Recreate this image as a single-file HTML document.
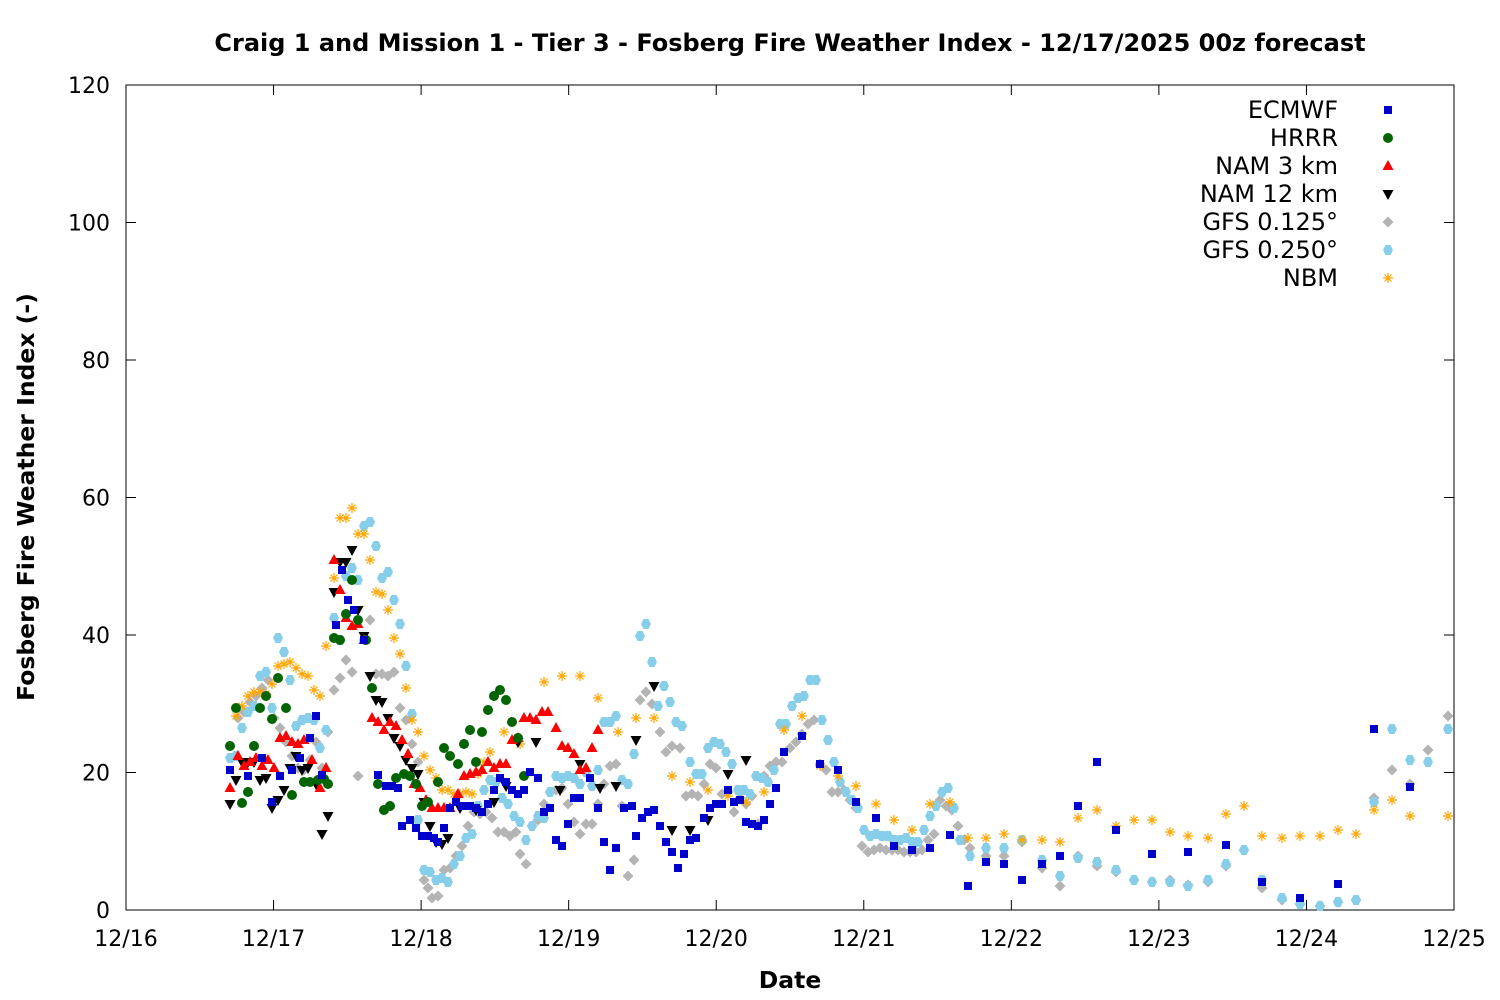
<!DOCTYPE html>
<html><head><meta charset="utf-8"><style>
body{margin:0;background:#fff}
svg{display:block;font-family:"DejaVu Sans","Liberation Sans",sans-serif}
</style></head><body>
<svg id="s" width="1500" height="1000" xmlns="http://www.w3.org/2000/svg">
<rect width="1500" height="1000" fill="#fff"/>
<text x="790" y="51" text-anchor="middle" font-size="24" font-weight="bold">Craig 1 and Mission 1 - Tier 3 - Fosberg Fire Weather Index - 12/17/2025 00z forecast</text>
<g id="ax" stroke="#000" stroke-width="1" fill="none"></g>
<g id="lab" font-size="22" fill="#000"></g>
<text x="790" y="988" text-anchor="middle" font-size="23.5" font-weight="bold">Date</text>
<text transform="translate(34,497) rotate(-90)" text-anchor="middle" font-size="23.5" font-weight="bold">Fosberg Fire Weather Index (-)</text>
<g id="pts"></g>
<g id="leg" font-size="24" text-anchor="end"></g>
</svg>
<script>
const NS="http://www.w3.org/2000/svg";
function el(p,t,a,txt){const e=document.createElementNS(NS,t);for(const k in a)e.setAttribute(k,a[k]);if(txt!==undefined)e.textContent=txt;document.getElementById(p).appendChild(e);return e;}
el('ax','rect',{x:126,y:85,width:1328,height:825});
const lab=["12/16","12/17","12/18","12/19","12/20","12/21","12/22","12/23","12/24","12/25"];
for(let i=0;i<10;i++){const x=126+1328/9*i;el('ax','line',{x1:x,y1:910,x2:x,y2:900});el('ax','line',{x1:x,y1:85,x2:x,y2:95});el('lab','text',{x:x,y:946,'text-anchor':'middle'},lab[i]);}
for(let k=0;k<=6;k++){const y=910-137.5*k;el('ax','line',{x1:126,y1:y,x2:136,y2:y});el('ax','line',{x1:1454,y1:y,x2:1444,y2:y});el('lab','text',{x:110,y:y+8,'text-anchor':'end'},String(20*k));}
function mk(type,x,y,g){g=g||'pts';
 if(type==0)el(g,'rect',{x:x-4,y:y-4,width:8,height:8,fill:'#0000cc'});
 else if(type==1)el(g,'circle',{cx:x,cy:y,r:5,fill:'#006400'});
 else if(type==2)el(g,'polygon',{points:`${x},${y-6} ${x+5.5},${y+4} ${x-5.5},${y+4}`,fill:'#ff0000'});
 else if(type==3)el(g,'polygon',{points:`${x},${y+6} ${x+5.5},${y-4} ${x-5.5},${y-4}`,fill:'#000'});
 else if(type==4)el(g,'polygon',{points:`${x},${y-5.5} ${x+5.5},${y} ${x},${y+5.5} ${x-5.5},${y}`,fill:'#b4b4b4'});
 else if(type==5)el(g,'polygon',{points:`${x-2.5},${y-5} ${x+2.5},${y-5} ${x+5},${y} ${x+2.5},${y+5} ${x-2.5},${y+5} ${x-5},${y}`,fill:'#87ceeb'});
 else {const p=`M${x-5},${y}H${x+5}M${x},${y-5}V${y+5}M${x-3.5},${y-3.5}L${x+3.5},${y+3.5}M${x-3.5},${y+3.5}L${x+3.5},${y-3.5}`;el(g,'path',{d:p,stroke:'#ffa500','stroke-width':1.2,fill:'none'});}
}
const D=[
[230,770,248,776,262,758,272,802,280,776,292,770,300,758,310,738,316,716,322,775,336,625,342,570,348,600,354,610,364,640,378,775,386,786,392,786,398,788,402,826,410,820,416,828,422,836,428,836,434,838,438,842,444,828,450,808,456,802,462,806,470,806,476,808,482,812,488,804,494,790,500,778,506,782,512,790,518,794,524,790,530,772,538,778,544,812,550,808,556,840,562,846,568,824,574,798,580,798,590,778,598,808,604,842,610,870,616,848,624,808,632,806,636,836,642,818,648,812,654,810,660,826,666,842,672,852,678,868,684,854,690,840,696,838,704,818,710,808,716,804,722,804,728,790,734,802,740,800,746,822,752,824,758,826,764,820,770,804,776,788,784,752,802,736,820,764,838,770,856,802,876,818,894,846,912,850,930,848,950,835,968,886,986,862,1004,864,1022,880,1042,864,1060,856,1078,806,1097,762,1116,830,1152,854,1188,852,1226,845,1262,882,1300,898,1338,884,1374,729,1410,787],
[230,746,236,708,242,803,248,792,254,746,260,708,266,696,272,719,278,678,286,708,292,795,304,782,310,782,318,780,324,779,328,784,334,638,340,640,346,614,352,580,358,620,366,640,372,688,378,784,384,810,390,806,396,778,404,774,410,776,416,784,422,806,428,802,438,782,444,748,450,756,458,764,464,744,470,730,476,762,482,732,488,710,494,696,500,690,506,700,512,722,518,738,524,776],
[230,788,238,756,244,766,250,762,256,758,262,766,268,760,274,768,280,738,286,736,292,742,298,744,304,740,312,760,320,788,326,768,334,560,340,590,346,618,352,626,358,624,364,640,372,718,378,722,384,730,390,722,396,726,402,740,408,754,414,784,420,788,426,800,432,808,438,808,444,808,450,808,458,794,464,776,470,774,476,772,482,770,488,762,494,768,500,764,506,764,512,740,518,738,524,718,530,718,536,720,542,712,548,712,556,728,562,746,568,748,574,754,580,770,586,768,592,748,598,730],
[230,804,236,780,242,762,248,762,254,762,260,780,266,778,272,808,278,800,284,790,290,768,296,756,302,770,308,768,316,784,322,834,328,816,334,592,340,562,346,562,352,550,358,610,364,636,370,676,376,700,382,702,388,718,394,738,400,746,406,760,412,768,418,774,424,802,430,826,436,842,442,844,448,838,460,808,476,810,494,802,506,786,518,742,536,742,560,790,580,764,600,788,616,786,636,740,654,686,672,830,690,830,708,820,728,774,746,760],
[238,718,244,712,250,702,256,696,262,688,268,680,274,718,280,728,286,742,292,756,298,768,304,770,310,760,316,742,322,768,328,732,334,690,340,678,346,660,352,672,358,776,364,640,370,620,376,674,382,674,388,676,394,672,400,708,406,720,412,744,418,762,424,880,428,888,432,898,438,896,444,870,450,868,456,856,462,846,468,826,474,812,480,814,486,812,492,818,498,832,504,832,510,836,516,832,520,854,526,864,532,826,538,820,544,804,550,792,556,790,562,788,568,804,574,822,580,834,586,824,592,824,598,804,604,784,610,766,616,764,622,806,628,876,634,860,640,700,646,692,652,704,660,732,666,752,672,746,680,748,686,796,692,794,698,796,704,784,710,764,716,768,722,794,728,792,734,812,740,798,746,804,752,796,758,824,764,776,770,766,776,762,782,762,790,748,796,742,802,734,808,724,814,720,820,764,826,770,832,792,838,792,844,790,850,800,856,808,862,846,868,852,874,850,880,848,886,850,892,850,898,850,904,852,910,852,916,852,922,850,928,840,934,834,940,800,946,806,952,810,958,826,964,840,970,848,986,856,1004,856,1022,842,1042,868,1060,886,1078,856,1097,866,1116,872,1134,880,1152,882,1170,880,1188,885,1208,882,1226,866,1244,850,1262,888,1282,900,1300,904,1320,906,1338,902,1356,900,1374,798,1392,770,1410,784,1428,750,1448,716],
[230,758,236,756,242,728,248,712,254,706,260,676,266,672,272,708,278,638,284,652,290,680,296,726,302,720,308,718,314,720,320,748,326,730,334,618,340,640,346,576,352,568,358,580,364,526,370,522,376,546,382,578,388,572,394,600,400,624,406,666,412,714,418,820,424,870,430,872,436,880,442,878,448,882,454,864,460,856,466,838,472,834,478,806,484,790,490,780,496,782,502,798,508,804,514,816,520,822,526,840,532,826,538,816,544,818,550,792,556,776,562,778,568,776,574,778,580,784,586,772,592,786,598,770,604,722,610,722,616,716,622,780,628,784,634,754,640,636,646,624,652,662,658,706,664,686,670,702,676,722,682,726,690,762,696,774,702,774,708,748,714,742,720,744,726,752,732,764,738,790,744,790,750,794,756,776,762,778,768,782,774,770,780,724,786,724,792,706,798,698,804,696,810,680,816,680,822,720,828,740,834,762,840,782,846,792,852,800,858,808,864,830,870,836,876,834,882,836,888,836,894,840,900,840,906,838,912,842,918,842,924,830,930,816,936,806,942,792,948,788,954,808,960,840,970,856,986,848,1004,848,1022,840,1042,860,1060,876,1078,858,1097,862,1116,870,1134,880,1152,882,1170,882,1188,886,1208,880,1226,864,1244,850,1262,880,1282,898,1300,904,1320,906,1338,902,1356,900,1374,802,1392,729,1410,760,1428,762,1448,729],
[236,716,242,706,248,696,254,692,260,692,266,694,272,684,278,666,284,664,290,662,296,668,302,674,308,676,314,690,320,696,326,646,334,578,340,518,346,518,352,508,358,534,364,534,370,560,376,592,382,594,388,610,394,638,400,654,406,688,412,720,418,732,424,756,430,770,436,778,442,790,448,790,454,794,460,794,466,792,472,794,478,774,484,762,490,752,504,732,520,744,544,682,562,676,580,676,598,698,618,732,636,718,654,718,672,776,690,782,708,790,728,796,746,802,764,792,784,730,802,716,820,766,838,776,856,786,876,804,894,820,912,830,930,804,950,802,968,838,986,838,1004,834,1022,840,1042,840,1060,842,1078,818,1097,810,1116,826,1134,820,1152,820,1170,832,1188,836,1208,838,1226,814,1244,806,1262,836,1282,838,1300,836,1320,836,1338,830,1356,834,1374,810,1392,800,1410,816,1448,816]];
const order=[4,5,6,3,2,1,0];
for(const t of order){const a=D[t];for(let i=0;i<a.length;i+=2)mk(t,a[i],a[i+1]);}
const names=["ECMWF","HRRR","NAM 3 km","NAM 12 km","GFS 0.125°","GFS 0.250°","NBM"];
for(let i=0;i<7;i++){const y=110+28*i;el('leg','text',{x:1338,y:y+8},names[i]);mk(i,1388,y,'leg');}
</script>
</body></html>
